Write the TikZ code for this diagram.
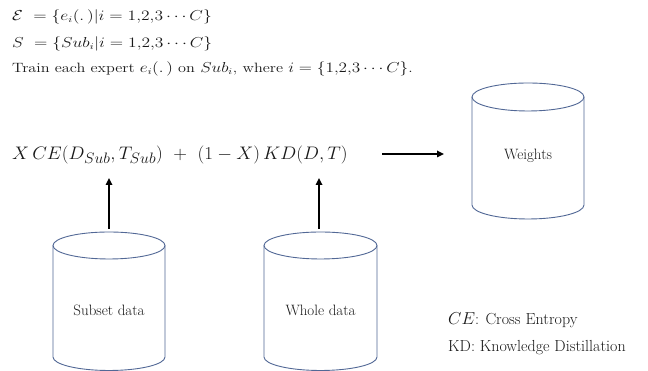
\documentclass[tikz,border=0pt]{standalone}
\usetikzlibrary{arrows.meta}
\definecolor{cylblue}{RGB}{82,104,150}
\definecolor{txtgray}{RGB}{25,25,25}
\tikzset{
  cyl/.style={draw=cylblue, line width=0.9pt},
  arr/.style={-{Triangle[length=7pt,width=6.5pt]}, line width=1.6pt, black},
  lbl/.style={font=\fontsize{15}{17}\selectfont, inner sep=0pt, text=txtgray},
  toptext/.style={anchor=west, inner sep=0pt, font=\fontsize{13.5}{15}\selectfont, text=txtgray},
  legend/.style={anchor=west, inner sep=0pt, font=\fontsize{16}{18}\selectfont, text=txtgray},
}
\newcommand{\mycyl}[5]{% xl, xr, ytop, ybot, ry
  \draw[cyl] (#1,#3) -- (#1,#4) arc[start angle=180,end angle=360,x radius={(#2-#1)/2},y radius=#5] -- (#2,#3);
  \draw[cyl] ({(#1+#2)/2},#3) ellipse[x radius={(#2-#1)/2},y radius=#5];
}
\begin{document}
\begin{tikzpicture}[x=1pt,y=1pt]
\useasboundingbox (0,0) rectangle (648,371);
\fill[white] (0,0) rectangle (648,371);
% top text
\node[toptext] (l1) at (12,354) {\scalebox{1.22}[1]{$\mathcal{E}\ =\{e_i(.\,)|i=1{,}2{,}3\cdots C\}$}};
\node[toptext] (l2) at (12,327) {\scalebox{1.22}[1]{$S\ =\{Sub_i|i=1{,}2{,}3\cdots C\}$}};
\node[toptext] (l3) at (12,302) {\scalebox{1.2}[1]{Train each expert $e_i(.\,)$ on $Sub_i$, where $i=\{1{,}2{,}3\cdots C\}$.}};
% equation
\node[anchor=west, inner sep=0pt, font=\fontsize{19}{22}\selectfont, text=txtgray] (eq) at (12,216)
  {\scalebox{1.1}[1.05]{$X\,CE(D_{Sub},T_{Sub})\ +\ (1-X)\,KD(D,T)$}};
% cylinders
\mycyl{53}{165}{125.5}{14}{13.5}
\mycyl{264}{377}{125.5}{14}{13.5}
\mycyl{472}{584}{274}{166}{14}
\node[lbl] (subset) at (109,61) {Subset data};
\node[lbl] (whole) at (320.5,61) {Whole data};
\node[lbl] (weights) at (528,215) {Weights};
% connector coordinates
\coordinate (subsettop) at (109,142);
\coordinate (subsetin) at (109,193);
\coordinate (wholetop) at (319,142);
\coordinate (wholein) at (319,193);
\coordinate (eqout) at (382,217);
\coordinate (weightsin) at (444,217);
\draw[arr] (subsettop) -- (subsetin);
\draw[arr] (wholetop) -- (wholein);
\draw[arr] (eqout) -- (weightsin);
% legend
\node[legend] (ce) at (448,51) {$CE$: Cross Entropy};
\node[legend] (kd) at (448,23) {KD: Knowledge Distillation};
\end{tikzpicture}
\end{document}
